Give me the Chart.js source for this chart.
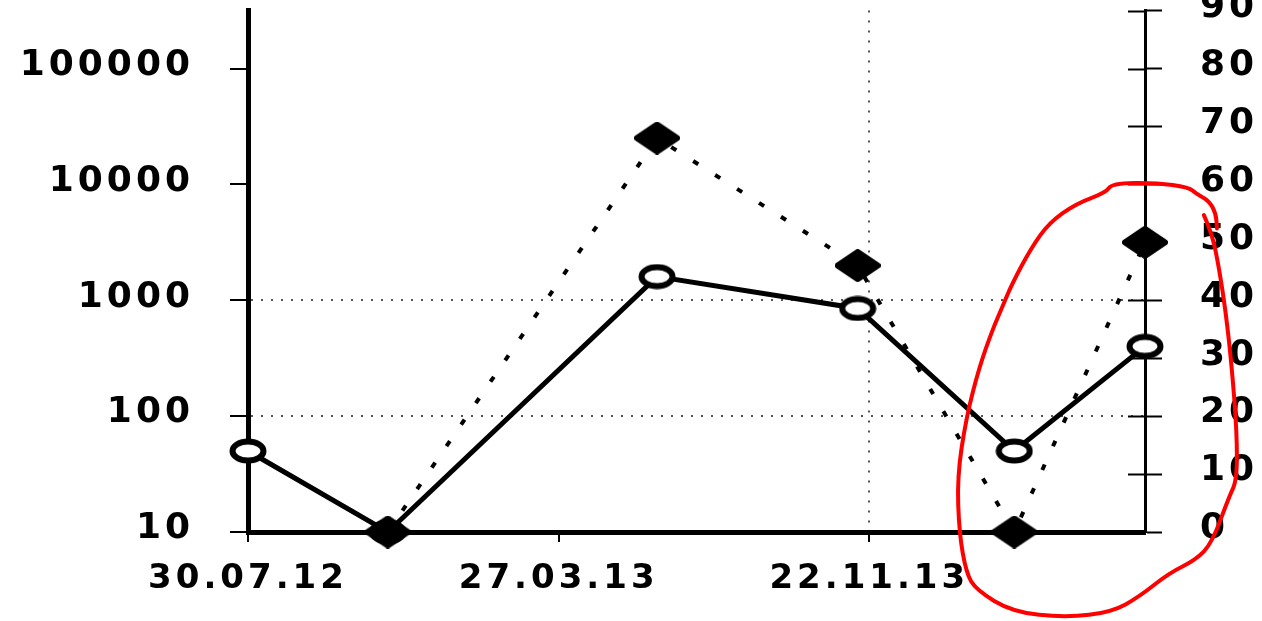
<!DOCTYPE html>
<html>
<head>
<meta charset="utf-8">
<script src="https://cdn.jsdelivr.net/npm/chart.js@4/dist/chart.umd.min.js"></script>
<style>
  html, body { margin: 0; padding: 0; background: #fff; overflow: hidden; width: 1262px; height: 621px; }
  #wrap { position: absolute; left: 0; top: -49px; width: 1262px; height: 670px; }
</style>
</head>
<body>
<div id="wrap"><canvas id="c" width="1262" height="670"></canvas></div>
<script>
// Sampling dates (dd.mm.yy)
const sampleDates = ['30.07.12', '15.11.12', '11.06.13', '13.11.13', '14.03.14', '23.06.14'];
// Left axis (log scale): open circles joined by a solid line
const countSeries = [50, 10, 1600, 850, 50, 400];
// Right axis (0-90): filled diamonds joined by a dotted line
const rightSeries = [null, 0, 68, 46, 0, 50];
// Labelled dates on the time axis
const dateTicks = ['30.07.12', '27.03.13', '22.11.13'];
// Decades on the left axis
const logTicks = [10, 100, 1000, 10000, 100000];
// Steps on the right axis
const rightTicks = [0, 10, 20, 30, 40, 50, 60, 70, 80, 90];

function toDay(s) {
  const [d, m, y] = s.split('.').map(Number);
  return Date.UTC(2000 + y, m - 1, d) / 86400000;
}
const origin = toDay(sampleDates[0]);
const dayOf = s => toDay(s) - origin;

// Marker sprites
function ringSprite(w, h, lw) {
  const c = document.createElement('canvas');
  c.width = w; c.height = h;
  const g = c.getContext('2d');
  g.beginPath();
  g.ellipse(w / 2, h / 2, w / 2 - lw / 2 - 0.5, h / 2 - lw / 2 - 0.5, 0, 0, Math.PI * 2);
  g.fillStyle = '#fff';
  g.fill();
  g.lineWidth = lw;
  g.strokeStyle = '#000';
  g.stroke();
  return c;
}
function diamondSprite(w, h) {
  const c = document.createElement('canvas');
  c.width = w; c.height = h;
  const g = c.getContext('2d');
  g.beginPath();
  g.moveTo(w / 2, 3);
  g.lineTo(w - 3, h / 2);
  g.lineTo(w / 2, h - 3);
  g.lineTo(3, h / 2);
  g.closePath();
  g.fillStyle = '#000';
  g.strokeStyle = '#000';
  g.lineJoin = 'round';
  g.lineWidth = 6;
  g.fill();
  g.stroke();
  return c;
}
const ring = ringSprite(38, 26, 6);
const diamond = diamondSprite(46, 33);

const transparent = 'rgba(0,0,0,0)';

// Wide lettering for all axis text
const spacing = {
  id: 'spacing',
  beforeLayout(chart) { chart.ctx.letterSpacing = '4px'; },
  beforeDraw(chart) { chart.ctx.letterSpacing = '4px'; }
};

// Right axis tick marks cross the axis line; the inner half is drawn here
const crossTicks = {
  id: 'crossTicks',
  afterDraw(chart) {
    const s = chart.scales.y2;
    const ctx = chart.ctx;
    const x = chart.chartArea.right;
    ctx.save();
    ctx.strokeStyle = '#000';
    ctx.lineWidth = 2;
    s.ticks.forEach(t => {
      const y = Math.round(s.getPixelForValue(t.value)) + 0.5;
      ctx.beginPath();
      ctx.moveTo(x - 17, y);
      ctx.lineTo(x, y);
      ctx.stroke();
    });
    ctx.restore();
  }
};

// Hand-drawn red loop highlighting the last two samples (day, right-axis units)
const loopPath = [
  [738.5, 54.7], [744.7, 51.6], [750.1, 45.7], [755.5, 37.8], [760.1, 28.4], [764, 17.1],
  [764, 9.0], [757.8, 6.0], [744.7, -1.9], [732.4, -4.8], [711.5, -7.1], [688.4, -11.2],
  [667.5, -13.8], [632, -14.8], [590.4, -13.8], [562.6, -10.0], [554.9, -7.1], [549.5, -0.2],
  [547.9, 9.5], [554.9, 19.8], [564.9, 28.4], [575, 34.8], [582.7, 38.8], [590.4, 42.9],
  [605, 49.0], [619, 53.4], [639.8, 56.7], [662.9, 58.6], [667.5, 60.2], [701.5, 60.3],
  [727, 59.5], [732.4, 58.4], [742.4, 57.2], [747.8, 55.0], [748.6, 52.4]
];
const highlight = {
  id: 'highlight',
  afterDraw(chart) {
    const xs = chart.scales.x, ys = chart.scales.y2, ctx = chart.ctx;
    const pts = loopPath.map(([d, v]) => [xs.getPixelForValue(d), ys.getPixelForValue(v)]);
    ctx.save();
    ctx.strokeStyle = '#ff0000';
    ctx.lineWidth = 4;
    ctx.lineJoin = 'round';
    ctx.lineCap = 'round';
    ctx.beginPath();
    ctx.moveTo(pts[0][0], pts[0][1]);
    for (let i = 1; i < pts.length - 1; i++) {
      const mx = (pts[i][0] + pts[i + 1][0]) / 2, my = (pts[i][1] + pts[i + 1][1]) / 2;
      ctx.quadraticCurveTo(pts[i][0], pts[i][1], mx, my);
    }
    const last = pts[pts.length - 1];
    ctx.lineTo(last[0], last[1]);
    ctx.stroke();
    ctx.restore();
  }
};

Chart.defaults.font.family = "'DejaVu Sans', sans-serif";
Chart.defaults.font.size = 34;
Chart.defaults.font.weight = 'bold';
Chart.defaults.color = '#000';

new Chart(document.getElementById('c'), {
  type: 'line',
  data: {
    datasets: [
      {
        label: 'left',
        data: sampleDates.map((d, i) => ({ x: dayOf(d), y: countSeries[i] })),
        yAxisID: 'y',
        borderColor: '#000',
        borderWidth: 5,
        pointStyle: ring,
        pointRadius: 12,
        order: 1,
        clip: false
      },
      {
        label: 'right',
        data: sampleDates.map((d, i) => ({ x: dayOf(d), y: rightSeries[i] })),
        yAxisID: 'y2',
        borderColor: '#000',
        borderWidth: 4,
        borderDash: [6, 20],
        pointStyle: diamond,
        pointRadius: 12,
        spanGaps: false,
        order: 0,
        clip: false
      }
    ]
  },
  options: {
    responsive: false,
    animation: false,
    devicePixelRatio: 1,
    layout: { padding: 0 },
    elements: { line: { tension: 0 } },
    plugins: { legend: { display: false }, tooltip: { enabled: false } },
    scales: {
      x: {
        type: 'linear',
        min: 0,
        max: dayOf(sampleDates[sampleDates.length - 1]),
        afterBuildTicks(s) { s.ticks = dateTicks.map(t => ({ value: dayOf(t) })); },
        ticks: { callback: (v, i) => dateTicks[i], padding: 17, maxRotation: 0, autoSkip: false },
        grid: {
          color: c => (c.index === 2 ? '#555' : transparent),
          lineWidth: 2,
          tickColor: '#000',
          tickLength: 10,
          tickWidth: 2
        },
        border: { color: '#000', width: 5, dash: [2, 8] },
        afterFit(s) { s.height = 89; }
      },
      y: {
        type: 'logarithmic',
        position: 'left',
        min: 10,
        max: Math.pow(10, 5.5),
        afterBuildTicks(s) { s.ticks = logTicks.map(v => ({ value: v })); },
        ticks: { callback: v => String(v), padding: 36, labelOffset: -3, font: { size: 36 } },
        grid: {
          color: c => (c.tick && (c.tick.value === 100 || c.tick.value === 1000) ? '#555' : transparent),
          lineWidth: 2,
          tickColor: '#000',
          tickLength: 18,
          tickWidth: 2
        },
        border: { color: '#000', width: 5, dash: [2, 8] },
        afterFit(s) { s.width = 248; }
      },
      y2: {
        type: 'linear',
        position: 'right',
        min: 0,
        max: 90,
        afterBuildTicks(s) { s.ticks = rightTicks.map(v => ({ value: v })); },
        ticks: { padding: 38, labelOffset: -3, font: { size: 36 } },
        grid: { drawOnChartArea: false, tickColor: '#000', tickLength: 17, tickWidth: 2 },
        border: { color: '#000', width: 3 },
        afterFit(s) { s.width = 117; }
      }
    }
  },
  plugins: [spacing, crossTicks, highlight]
});
</script>
</body>
</html>
